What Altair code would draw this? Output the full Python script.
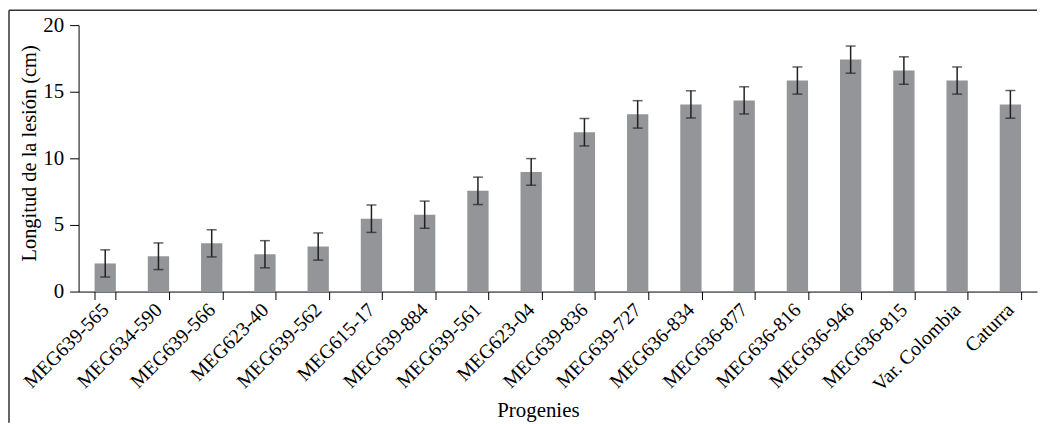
import altair as alt
import pandas as pd

categories = ["MEG639-565", "MEG634-590", "MEG639-566", "MEG623-40", "MEG639-562",
              "MEG615-17", "MEG639-884", "MEG639-561", "MEG623-04", "MEG639-836",
              "MEG639-727", "MEG636-834", "MEG636-877", "MEG636-816", "MEG636-946",
              "MEG636-815", "Var. Colombia", "Caturra"]
means = [2.11, 2.65, 3.62, 2.80, 3.38, 5.47, 5.77, 7.56, 8.98, 11.96,
         13.30, 14.05, 14.35, 15.84, 17.41, 16.59, 15.84, 14.05]
errors = [1.02, 1.00, 1.02, 1.02, 1.02, 1.03, 1.02, 1.03, 1.00, 1.03,
          1.03, 1.02, 1.02, 1.02, 1.02, 1.03, 1.02, 1.04]

df = pd.DataFrame({"cat": categories, "mean": means, "err": errors})
df["lo"] = df["mean"] - df["err"]
df["hi"] = df["mean"] + df["err"]

W, H = 964, 268
FONT = "Liberation Serif"

xenc = alt.X("cat:N", sort=categories, title="Progenies",
             scale=alt.Scale(paddingInner=0.6, paddingOuter=0.3),
             axis=alt.Axis(labelAngle=-45, labelAlign="right", labelBaseline="middle",
                           tickBand="extent", tickSize=8, labelPadding=7,
                           labelFontSize=20, titleFontSize=21,
                           titleX=462, titleY=126, titleBaseline="alphabetic",
                           titleAlign="center"))
yscale = alt.Scale(domain=[0, 20], nice=False)

base = alt.Chart(df)
bars = base.mark_bar(color="#939598").encode(
    x=xenc,
    y=alt.Y("mean:Q", scale=yscale, title="Longitud de la lesión (cm)",
            axis=alt.Axis(values=[0, 5, 10, 15, 20], tickSize=9, labelPadding=6,
                          labelFontSize=21, titleFontSize=20.5,
                          titleX=-43, titleY=128.5, titleAngle=-90,
                          titleBaseline="alphabetic", titleAlign="center",
                          grid=False))
)
rules = base.mark_rule(color="#231f20", strokeWidth=1.5).encode(
    x=alt.X("cat:N", sort=categories), y=alt.Y("lo:Q", scale=yscale), y2="hi:Q"
)
cap_lo = base.mark_tick(color="#231f20", size=10, thickness=1.5).encode(
    x=alt.X("cat:N", sort=categories), y=alt.Y("lo:Q", scale=yscale)
)
cap_hi = base.mark_tick(color="#231f20", size=10, thickness=1.5).encode(
    x=alt.X("cat:N", sort=categories), y=alt.Y("hi:Q", scale=yscale)
)

frame_df = pd.DataFrame({"k": [0]})
frame_top = alt.Chart(frame_df).mark_rule(color="#333333", strokeWidth=1.5).encode(
    x=alt.value(-70), x2=alt.value(W), y=alt.value(-15)
)
frame_left = alt.Chart(frame_df).mark_rule(color="#333333", strokeWidth=1.5).encode(
    x=alt.value(-70), y=alt.value(-15), y2=alt.value(400)
)

chart = alt.layer(bars, rules, cap_lo, cap_hi, frame_top, frame_left).properties(
    width=W, height=H, padding=0
).configure_view(stroke=None).configure_axis(
    labelFont=FONT, titleFont=FONT, labelColor="black", titleColor="black",
    domainColor="black", tickColor="black", titleFontWeight="normal"
)

chart.save("out.html", embed_options={"renderer": "svg", "actions": False})
